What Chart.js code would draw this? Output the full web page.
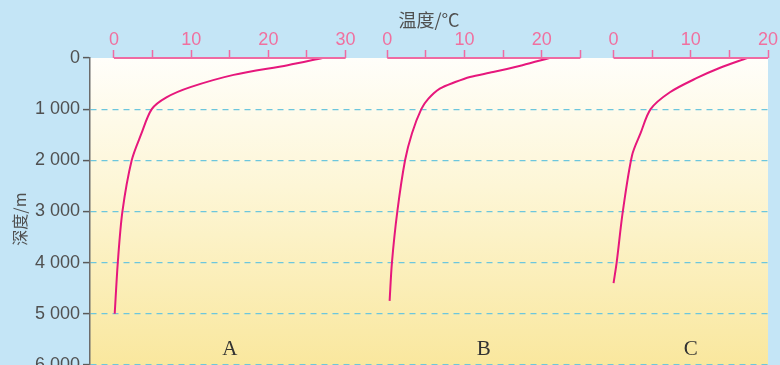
<!DOCTYPE html>
<html>
<head>
<meta charset="utf-8">
<script src="https://cdn.jsdelivr.net/npm/chart.js@4/dist/chart.umd.min.js"></script>
<style>
  html, body { margin: 0; padding: 0; background: #c4e5f6; overflow: hidden; }
  #wrap { position: relative; width: 780px; height: 394px; }
</style>
</head>
<body>
<div id="wrap"><canvas id="tempChart"></canvas></div>
<script>
  // 三个海区水温随深度的变化
  const panelNames = ['A', 'B', 'C'];
  const depthTicks = [0, 1000, 2000, 3000, 4000, 5000, 6000];
  const tempTicksA = [0, 5, 10, 15, 20, 25, 30];
  const tempTicksB = [0, 5, 10, 15, 20, 25];
  const tempTicksC = [0, 5, 10, 15, 20];

  const depthA = [0, 140, 330, 570, 770, 1000, 1500, 2000, 3000, 4000, 5000];
  const tempA  = [27, 22.5, 15.5, 9.9, 6.8, 4.9, 3.5, 2.3, 1.1, 0.5, 0.1];
  const depthB = [0, 140, 275, 370, 470, 600, 800, 1000, 1470, 2000, 3000, 4000, 4750];
  const tempB  = [21, 17.5, 13.7, 10.7, 8.8, 6.8, 5.3, 4.4, 3.2, 2.3, 1.3, 0.6, 0.3];
  const depthC = [0, 190, 390, 670, 1000, 1470, 1900, 3000, 4000, 4400];
  const tempC  = [17.3, 13.8, 10.8, 7.3, 4.8, 3.5, 2.4, 1.2, 0.4, 0.0];

  const curveColor = '#e6177c';
  const pinkAxis = '#ef6aa2';
  const pinkText = '#f0709f';
  const darkText = '#505050';

  function toPoints(temps, depths) {
    return depths.map((d, i) => ({ x: temps[i], y: d }));
  }

  // 温度轴：高度设为 0 让三条轴并排在绘图区顶边，刻度线由库画，数字由插件画
  function tempAxis(min, max, tickList) {
    return {
      type: 'linear',
      position: 'top',
      bounds: 'data',
      min: min,
      max: max,
      afterBuildTicks: s => { s.ticks = tickList.map(v => ({ value: v })); },
      afterFit: s => { s.height = 0; },
      border: { display: false },
      grid: { drawOnChartArea: false, tickLength: 8, tickColor: pinkAxis, tickWidth: 1.5 },
      ticks: { display: false, autoSkip: false, maxRotation: 0 }
    };
  }

  const axisIds = ['xA', 'xB', 'xC'];
  const axisTicks = [tempTicksA, tempTicksB, tempTicksC];

  const panelPlugin = {
    id: 'panels',
    beforeDraw(chart) {
      const { ctx, chartArea: a } = chart;
      const g = ctx.createLinearGradient(0, a.top, 0, a.bottom);
      g.addColorStop(0, '#fffefa');
      g.addColorStop(0.4, '#fdf6d6');
      g.addColorStop(1, '#f9e699');
      ctx.save();
      ctx.fillStyle = g;
      ctx.fillRect(a.left, a.top, a.right - a.left, a.bottom - a.top);
      ctx.restore();
    },
    afterDatasetsDraw(chart) {
      const { ctx, chartArea: a } = chart;
      const yScale = chart.scales.y;
      ctx.save();
      axisIds.forEach((id, i) => {
        const s = chart.scales[id];
        const list = axisTicks[i];
        const x0 = s.getPixelForValue(list[0]);
        const x1 = s.getPixelForValue(list[list.length - 1]);
        // 粉色轴线
        ctx.strokeStyle = pinkAxis;
        ctx.lineWidth = 2;
        ctx.beginPath();
        ctx.moveTo(x0, a.top);
        ctx.lineTo(x1, a.top);
        ctx.stroke();
        // 刻度数字（每 10 度一个）
        ctx.fillStyle = pinkText;
        ctx.font = '18px "Liberation Sans"';
        ctx.textAlign = 'center';
        ctx.textBaseline = 'alphabetic';
        s.ticks.forEach(t => {
          if (t.value % 10 === 0) {
            ctx.fillText(String(t.value), s.getPixelForValue(t.value), a.top - 13);
          }
        });
        // 面板字母
        ctx.fillStyle = '#333';
        ctx.font = '21px "Liberation Serif"';
        ctx.textBaseline = 'middle';
        ctx.fillText(panelNames[i], (x0 + x1) / 2, yScale.getPixelForValue(5700));
      });
      ctx.restore();
    }
  };

  const ctx = document.getElementById('tempChart').getContext('2d');
  const tempChart = new Chart(ctx, {
    type: 'line',
    data: {
      datasets: [
        { label: 'A', xAxisID: 'xA', data: toPoints(tempA, depthA) },
        { label: 'B', xAxisID: 'xB', data: toPoints(tempB, depthB) },
        { label: 'C', xAxisID: 'xC', data: toPoints(tempC, depthC) }
      ].map(ds => Object.assign(ds, {
        borderColor: curveColor,
        borderWidth: 2,
        pointRadius: 0,
        tension: 0.3,
        fill: false
      }))
    },
    options: {
      responsive: true,
      maintainAspectRatio: false,
      animation: false,
      layout: { padding: { left: 0, right: 12, top: 0, bottom: 0 } },
      plugins: {
        legend: { display: false },
        tooltip: { enabled: false },
        title: {
          display: true,
          text: '温度/°C',
          fullSize: false,
          color: darkText,
          font: { family: 'Noto Sans CJK SC', size: 18, weight: 'normal', lineHeight: 1.2 },
          padding: { top: 9, bottom: 27.4 }
        }
      },
      scales: {
        xA: tempAxis(-3.1, 84.7, tempTicksA),
        xB: tempAxis(-38.5, 49.3, tempTicksB),
        xC: tempAxis(-67.8, 20, tempTicksC),
        y: {
          type: 'linear',
          position: 'left',
          reverse: true,
          bounds: 'data',
          min: 0,
          max: 6300,
          afterBuildTicks: s => { s.ticks = depthTicks.map(v => ({ value: v })); },
          afterFit: s => { s.width = 90; },
          title: {
            display: true,
            text: '深度/m',
            color: darkText,
            font: { family: 'Noto Sans CJK SC', size: 16, lineHeight: 1.2 },
            padding: { top: 10, bottom: 0 }
          },
          border: { display: true, color: '#6b6b6b', width: 1.5, dash: [6, 5] },
          grid: {
            color: c => (c.tick && c.tick.value === 0 ? 'rgba(0,0,0,0)' : '#6cc6dd'),
            lineWidth: 1.2,
            tickLength: 7,
            tickColor: '#5a5a5a',
            tickWidth: 1.5
          },
          ticks: {
            padding: 3,
            color: darkText,
            font: { family: 'Liberation Sans', size: 18 },
            callback: v => (v === 0 ? '0' : (v / 1000) + ' 000')
          }
        }
      }
    },
    plugins: [panelPlugin]
  });
</script>
</body>
</html>
